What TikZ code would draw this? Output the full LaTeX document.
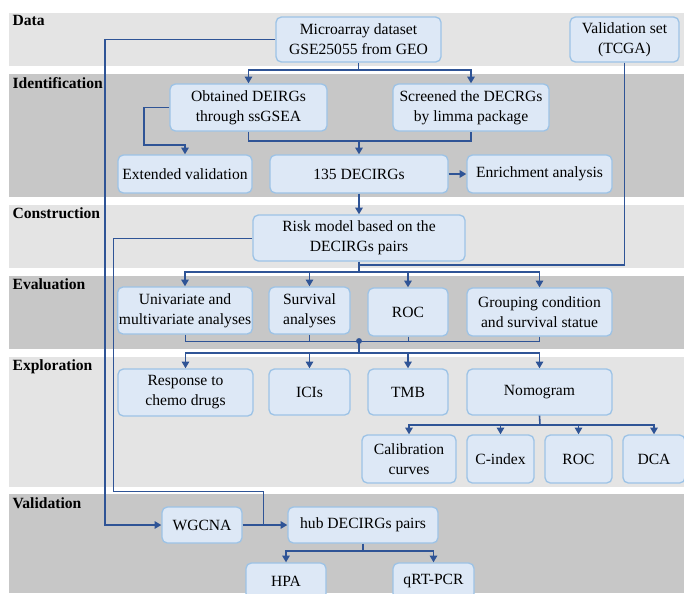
\documentclass[tikz,border=0pt]{standalone}
\usepackage{fontspec}
\setmainfont{Liberation Serif}
\usetikzlibrary{arrows.meta}
\definecolor{bandlight}{RGB}{228,228,228}
\definecolor{banddark}{RGB}{199,199,199}
\definecolor{boxfill}{RGB}{221,232,246}
\definecolor{boxline}{RGB}{157,195,230}
\definecolor{linkblue}{RGB}{47,84,150}

\begin{document}
\begin{tikzpicture}[x=0.75pt, y=-0.75pt,
    every node/.style={font=\fontsize{11.7}{15}\selectfont},
    box/.style={draw=boxline, fill=boxfill, line width=1pt, rounded corners=4pt, align=center, inner xsep=1pt, inner ysep=2pt},
    wh/.style 2 args={minimum width=#1*0.75pt, minimum height=#2*0.75pt},
    band/.style={anchor=north west, font=\fontsize{11.7}{15}\selectfont\bfseries, inner sep=1pt},
    link/.style={draw=linkblue, line width=1.2pt},
    arr/.style={link, -{Triangle[length=5pt, width=5.5pt]}},
    thin link/.style={draw=linkblue, line width=0.6pt}]
    \useasboundingbox (0,0) rectangle (684,593);

    % stage bands
    \fill[bandlight] (9,13) rectangle (684,66);
    \fill[banddark] (9,74) rectangle (684,197);
    \fill[bandlight] (9,205) rectangle (684,268);
    \fill[banddark] (9,276) rectangle (684,349);
    \fill[bandlight] (9,357) rectangle (684,487);
    \fill[banddark] (9,494) rectangle (684,593);

    \node[band] (ldata) at (11,14) {Data};
    \node[band] (lident) at (11,76) {Identification};
    \node[band] (lcons) at (11,206) {Construction};
    \node[band] (leval) at (11,277) {Evaluation};
    \node[band] (lexpl) at (11,358) {Exploration};
    \node[band] (lvali) at (11,496) {Validation};

    \node[box, wh={165}{45}] (mic) at (358.5,39.5) {Microarray dataset\\GSE25055 from GEO};
    \node[box, wh={109}{45}] (tcga) at (624.5,39.5) {Validation set\\(TCGA)};
    \node[box, wh={157}{47}] (deirg) at (248.5,107.5) {Obtained DEIRGs\\through ssGSEA};
    \node[box, wh={156}{47}] (decrg) at (471,107.5) {Screened the DECRGs\\by limma package};
    \node[box, wh={134}{38}] (extval) at (185,174) {Extended validation};
    \node[box, wh={178}{38}] (deci) at (359,174) {135 DECIRGs};
    \node[box, wh={145}{38}] (enrich) at (539.5,174) {Enrichment analysis};
    \node[box, wh={212}{46}] (risk) at (359,238) {Risk model based on the\\DECIRGs pairs};

    \node[box, wh={134}{47}] (univ) at (185,310.5) {Univariate and\\multivariate analyses};
    \node[box, wh={81}{47}] (surv) at (309.5,310.5) {Survival\\analyses};
    \node[box, wh={80}{48}] (roc) at (408,312) {ROC};
    \node[box, wh={145}{48}] (group) at (539.5,312) {Grouping condition\\and survival statue};

    \node[box, wh={135}{47}] (resp) at (185.5,392.5) {Response to\\chemo drugs};
    \node[box, wh={81}{46}] (ici) at (309.5,392) {ICIs};
    \node[box, wh={80}{46}] (tmb) at (408,392) {TMB};
    \node[box, wh={145}{46}] (nomo) at (539.5,392) {Nomogram};
    \node[box, wh={94}{48}] (calib) at (409,459) {Calibration\\curves};
    \node[box, wh={67}{48}] (cidx) at (500.5,459) {C-index};
    \node[box, wh={67}{48}] (roc2) at (578.5,459) {ROC};
    \node[box, wh={62}{48}] (dca) at (654,459) {DCA};

    \node[box, wh={80}{36}] (wgcna) at (202,525) {WGCNA};
    \node[box, wh={150}{36}] (hub) at (363,525) {hub DECIRGs pairs};
    \node[box, wh={80}{36}] (hpa) at (286,581) {HPA};
    \node[box, wh={81}{36}] (qrt) at (433.5,581) {qRT-PCR};

    % identification
    \coordinate (jmic) at (358.5,70);
    \draw[arr] (mic.south) -- (jmic) -| (deirg.north);
    \draw[arr] (jmic) -| (decrg.north);
    \coordinate (jext) at (144,145);
    \draw[arr] (deirg.west) -| (jext) -| (extval.north);
    \coordinate (jdeci) at (359,141);
    \draw[link] (deirg.south) |- (jdeci) -| (decrg.south);
    \draw[arr] (jdeci) -- (deci.north);
    \draw[arr] (deci) -- (enrich);
    \draw[arr] (deci) -- (risk);

    % construction and evaluation
    \coordinate (jtcga) at (359,265);
    \draw[link] (tcga.south) |- (jtcga);
    \coordinate (jrisk) at (359,272);
    \draw[link] (risk.south) -- (jrisk);
    \foreach \n in {univ,surv,roc,group} \draw[arr] (jrisk) -| (\n.north);
    \coordinate (jdot) at (359,341);
    \foreach \n in {univ,surv,roc,group} \draw[thin link] (\n.south) |- (jdot);
    \fill[linkblue] (jdot) circle (2.2pt);

    % exploration
    \coordinate (jexp) at (359,353);
    \draw[link] (jdot) -- (jexp);
    \foreach \n in {resp,ici,tmb,nomo} \draw[arr] (jexp) -| (\n.north);
    \coordinate (jnomo) at (540,425);
    \draw[link] (nomo.south) -- (jnomo);
    \foreach \n in {calib,cidx,roc2,dca} \draw[arr] (jnomo) -| (\n.north);

    % validation
    \coordinate (jwg) at (105,525);
    \draw[arr] (mic.west) -| (jwg) -- (wgcna);
    \coordinate (jthinA) at (113,491);
    \coordinate (jthinB) at (263,525);
    \draw[thin link] (risk.west) -| (jthinA) -| (jthinB);
    \draw[arr] (wgcna) -- (hub);
    \coordinate (jhub) at (363,551);
    \draw[link] (hub.south) -- (jhub);
    \foreach \n in {hpa,qrt} \draw[arr] (jhub) -| (\n.north);
\end{tikzpicture}
\end{document}
